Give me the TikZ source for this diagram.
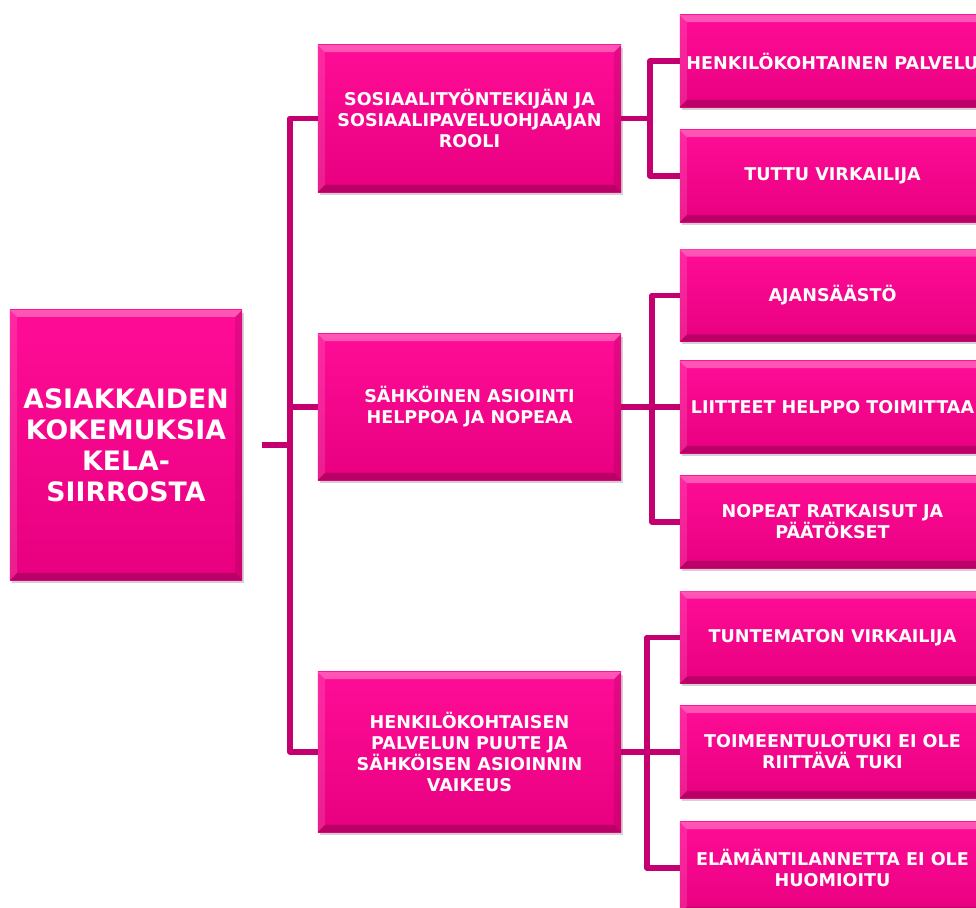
\documentclass[tikz,border=0pt]{standalone}
\usepackage{fontspec}
\setmainfont{DejaVu Sans}
\definecolor{pinktop}{RGB}{255,12,150}
\definecolor{pinkbot}{RGB}{232,0,128}
\definecolor{linkc}{RGB}{196,0,112}
\usetikzlibrary{shadows,calc}

\tikzset{
  bevel/.style={path picture={
    \fill[white,opacity=.30] (path picture bounding box.north west) -- (path picture bounding box.north east)
      -- ([shift={(-5pt,-5pt)}]path picture bounding box.north east) -- ([shift={(5pt,-5pt)}]path picture bounding box.north west) -- cycle;
    \fill[white,opacity=.12] (path picture bounding box.north west) -- (path picture bounding box.south west)
      -- ([shift={(5pt,5pt)}]path picture bounding box.south west) -- ([shift={(5pt,-5pt)}]path picture bounding box.north west) -- cycle;
    \fill[black,opacity=.10] (path picture bounding box.north east) -- (path picture bounding box.south east)
      -- ([shift={(-5pt,5pt)}]path picture bounding box.south east) -- ([shift={(-5pt,-5pt)}]path picture bounding box.north east) -- cycle;
    \fill[black,opacity=.20] (path picture bounding box.south west) -- (path picture bounding box.south east)
      -- ([shift={(-5pt,5pt)}]path picture bounding box.south east) -- ([shift={(5pt,5pt)}]path picture bounding box.south west) -- cycle;
  }},
  box/.style={top color=pinktop, bottom color=pinkbot, bevel, text=white, align=center, inner sep=0pt,
    drop shadow={shadow xshift=1.5pt, shadow yshift=-2pt, opacity=.35},
    font=\bfseries\fontsize{12.5}{15}\selectfont},
  rootbox/.style={box, minimum width=5.8cm, minimum height=6.75cm, font=\bfseries\fontsize{19}{22}\selectfont},
  midbox/.style={box, minimum width=7.575cm, minimum height=3.675cm},
  leafbox/.style={box, minimum width=7.625cm, minimum height=2.3cm},
  link/.style={draw=linkc, line width=4pt, line join=round}
}

\begin{document}
\begin{tikzpicture}[x=0.025cm,y=-0.025cm]
  \fill[white,use as bounding box] (0,0) rectangle (976,908);

  \node[rootbox] (root) at (126,445) {ASIAKKAIDEN\\KOKEMUKSIA\\KELA-\\SIIRROSTA};

  \node[midbox] (m1) at (469.5,118.5) {SOSIAALITYÖNTEKIJÄN JA\\SOSIAALIPAVELUOHJAAJAN\\ROOLI};
  \node[midbox, minimum height=3.65cm] (m2) at (469.5,407) {SÄHKÖINEN ASIOINTI\\HELPPOA JA NOPEAA};
  \node[midbox, minimum height=4cm] (m3) at (469.5,752) {HENKILÖKOHTAISEN\\PALVELUN PUUTE JA\\SÄHKÖISEN ASIOINNIN\\VAIKEUS};

  \foreach \n/\y/\t in {r1/61/{HENKILÖKOHTAINEN PALVELU}, r2/176/{TUTTU VIRKAILIJA},
      r3/295.5/{AJANSÄÄSTÖ}, r4/407/{LIITTEET HELPPO TOIMITTAA}, r5/522/{NOPEAT RATKAISUT JA\\PÄÄTÖKSET},
      r6/637.5/{TUNTEMATON VIRKAILIJA}, r7/752/{TOIMEENTULOTUKI EI OLE\\RIITTÄVÄ TUKI},
      r8/868/{ELÄMÄNTILANNETTA EI OLE\\HUOMIOITU}}
    \node[leafbox] (\n) at (832.5,\y) {\t};

  % root to the three themes
  \coordinate (rootout) at (262,445);
  \coordinate (bus) at (290,445);
  \draw[link] (rootout) -- (bus);
  \draw[link] (m1.west) -| (bus) |- (m3.west);
  \draw[link] (bus |- m2) -- (m2.west);

  % themes to leaves
  \coordinate (j1) at (650,118.5);
  \coordinate (j2) at (652,407);
  \coordinate (j3) at (647,752);
  \draw[link] (m1.east) -- (j1);
  \draw[link] (r1.west) -| (j1) |- (r2.west);
  \draw[link] (m2.east) -- (r4.west);
  \draw[link] (r3.west) -| (j2) |- (r5.west);
  \draw[link] (m3.east) -- (r7.west);
  \draw[link] (r6.west) -| (j3) |- (r8.west);
\end{tikzpicture}
\end{document}
